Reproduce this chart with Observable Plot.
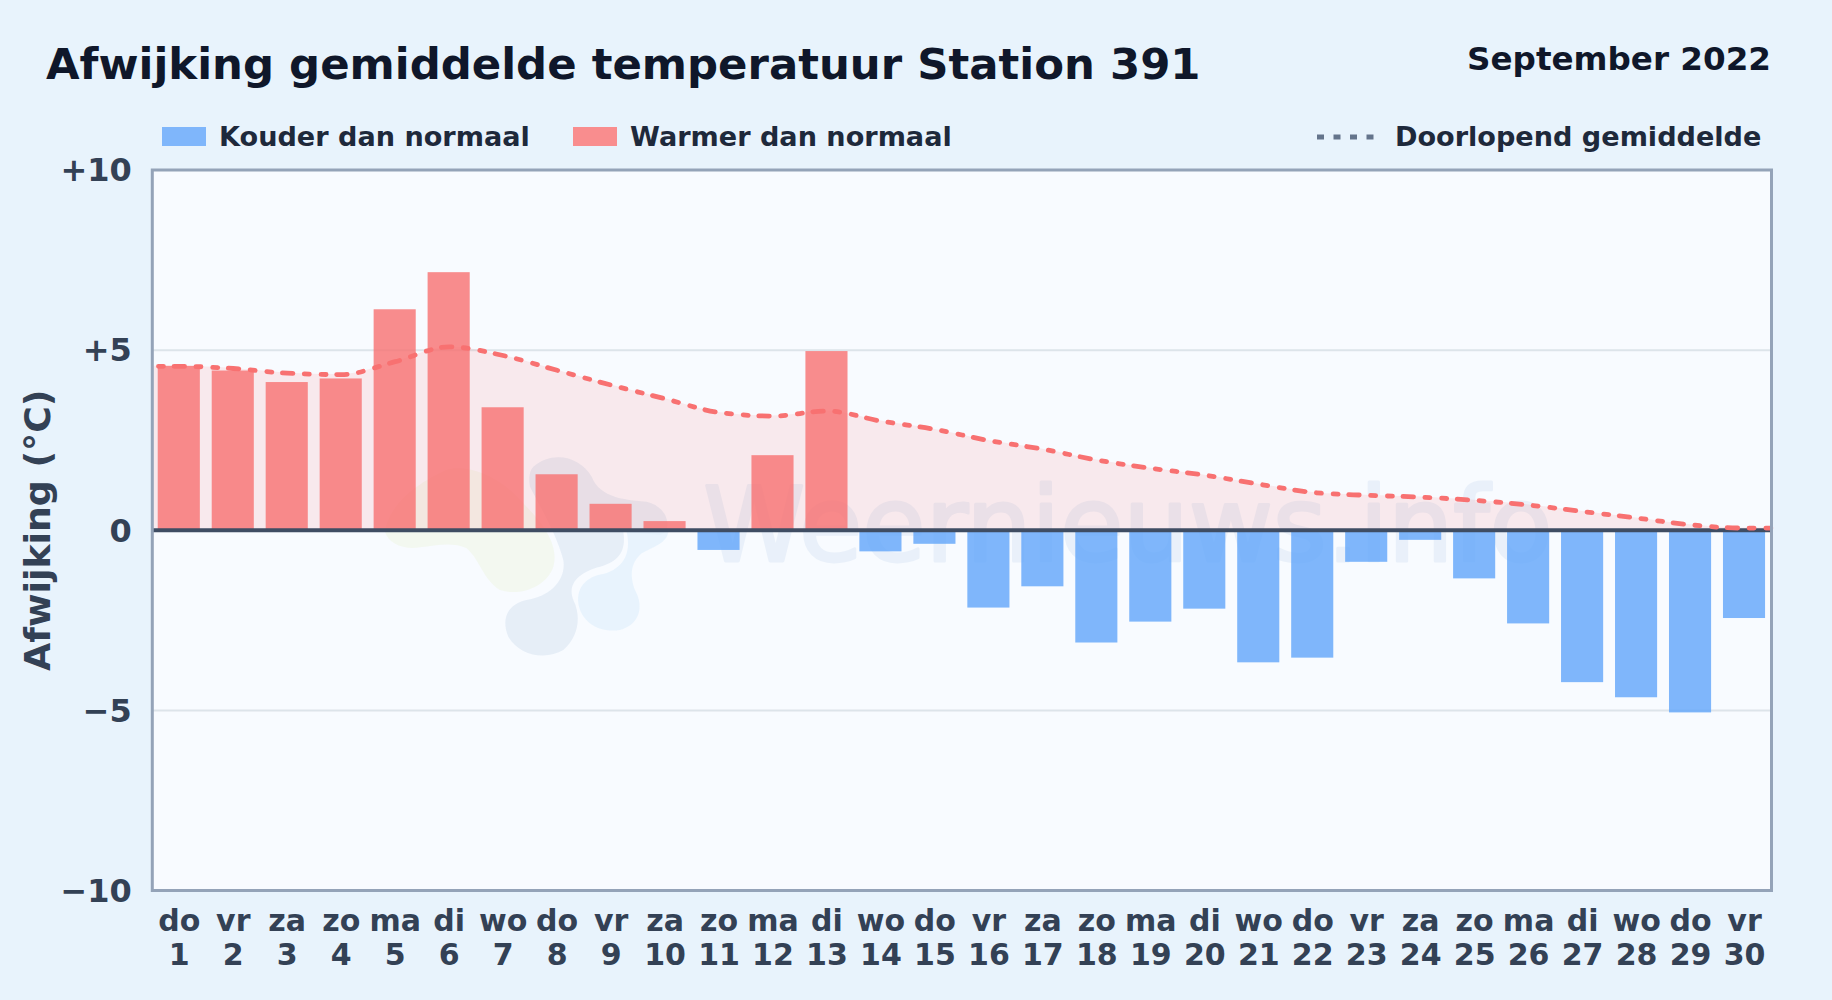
<!DOCTYPE html>
<html lang="nl">
<head>
<meta charset="utf-8">
<script src="https://cdn.jsdelivr.net/npm/d3@7"></script>
<script src="https://cdn.jsdelivr.net/npm/@observablehq/plot@0.6"></script>
<style>
html,body{margin:0;padding:0;background:#e8f3fc;}
body{width:1832px;height:1000px;overflow:hidden;position:relative;font-family:"DejaVu Sans",sans-serif;font-weight:bold;}
#header{position:relative;height:150px;}
#header span,#header div{position:absolute;white-space:nowrap;}
#title{left:46px;top:39px;font-size:43.4px;line-height:50px;color:#0f172a;}
#period{right:61px;top:40px;font-size:32.6px;line-height:38px;color:#0f172a;}
.leg{top:122px;font-size:27.1px;line-height:30px;color:#1e293b;}
.sw{top:127px;width:44px;height:19px;}
#dots{position:absolute;left:1317px;top:132px;}
#chart{position:absolute;left:0;top:150px;}
#chart svg{display:block;background:transparent;}
</style>
</head>
<body>
<div id="header">
  <span id="title">Afwijking gemiddelde temperatuur Station 391</span>
  <span id="period">September 2022</span>
  <div class="sw" style="left:162px;background:#7fb6fb"></div>
  <span class="leg" style="left:219px">Kouder dan normaal</span>
  <div class="sw" style="left:573px;background:#f98d8e"></div>
  <span class="leg" style="left:630px">Warmer dan normaal</span>
  <svg id="dots" width="60" height="10"><line x1="0" y1="5" x2="60" y2="5" stroke="#64748b" stroke-width="5" stroke-dasharray="7 9.5"/></svg>
  <span class="leg" style="left:1395px">Doorlopend gemiddelde</span>
</div>
<div id="chart"></div>
<script>
const days = d3.range(1, 31);
const weekdays = ["do","vr","za","zo","ma","di","wo","do","vr","za","zo","ma","di","wo","do","vr","za","zo","ma","di","wo","do","vr","za","zo","ma","di","wo","do","vr"];
const deviations = [4.55,4.42,4.10,4.20,6.12,7.15,3.40,1.54,0.72,0.24,-0.56,2.07,4.96,-0.60,-0.39,-2.16,-1.57,-3.13,-2.55,-2.19,-3.68,-3.55,-0.89,-0.28,-1.35,-2.60,-4.23,-4.65,-5.07,-2.45];
const runningMean = [4.55,4.49,4.36,4.32,4.68,5.09,4.85,4.44,4.03,3.65,3.27,3.17,3.31,3.03,2.80,2.49,2.25,1.95,1.72,1.53,1.28,1.05,0.97,0.92,0.83,0.70,0.52,0.34,0.15,0.06];
const yTicks = [-10,-5,0,5,10];
const yTickLabels = ["−10","−5","0","+5","+10"];
const gridValues = [-5,5];
const colours = {cold:"#60a5fa", warm:"#f87171"};

const bars = days.map((d,i)=>({day:d, value:deviations[i]}));
const avg = days.map((d,i)=>({day:d, value:runningMean[i]}));
const avgLine = [{day:0.5,value:runningMean[0]}, ...avg, {day:30.5,value:runningMean[29]}];
const tickColour = "#334155";

// faint logo behind the data (decoration only)
function logo(){
  const g = d3.create("svg:g").attr("transform","translate(360,270) scale(0.3333)");
  const blobs = [
    ["#e6f2c8",0.28,"M75,335 C90,250 170,190 260,150 C320,130 420,170 480,240 C540,300 600,370 580,440 C560,500 480,530 420,510 C370,480 360,420 320,385 C280,365 230,375 180,382 C130,390 85,370 75,335 Z"],
    ["#dbe6f3",0.65,"M520,140 C580,90 660,110 695,170 C720,235 800,240 860,245 C925,260 940,330 900,345 L790,335 C800,400 770,425 720,440 C660,455 620,490 640,540 C665,590 655,650 610,690 C560,720 480,710 445,650 C420,590 450,550 500,540 C570,530 620,480 610,420 C590,340 530,240 510,200 C505,170 510,150 520,140 Z"],
    ["#e3f1fd",0.8,"M800,335 L925,335 C920,370 880,380 845,400 C810,430 810,470 825,510 C855,565 835,615 780,630 C720,640 665,610 655,550 C650,500 680,470 730,462 C790,445 815,400 800,335 Z"]
  ];
  for (const [fill,op,d] of blobs) g.append("path").attr("d",d).attr("fill",fill).attr("fill-opacity",op);
  return g.node();
}

const plot = Plot.plot({
  width:1832, height:850,
  marginLeft:151.8, marginRight:61, marginTop:19.5, marginBottom:110,
  style:{background:"transparent",fontFamily:"DejaVu Sans, sans-serif",overflow:"visible"},
  x:{type:"linear",domain:[0.5,30.5],axis:null},
  y:{domain:[-10,10],axis:null},
  marks:[
    Plot.frame({fill:"#f8fbff",stroke:null}),
    logo,
    Plot.text(["Weernieuws.info"],{frameAnchor:"middle",dx:166,dy:-2,fontSize:103,fontWeight:"normal",fill:"#2f6fc0",stroke:"#2f6fc0",strokeWidth:3,opacity:0.07}),
    Plot.ruleY(gridValues,{stroke:"#dde4ea",strokeWidth:2}),
    Plot.areaY(avgLine,{x:"day",y1:0,y2:"value",curve:"monotone-x",fill:"#f87171",fillOpacity:0.13}),
    Plot.rectY(bars,{x1:d=>d.day-0.39,x2:d=>d.day+0.39,y:"value",fill:d=>d.value<0?colours.cold:colours.warm,fillOpacity:0.8,inset:0}),
    Plot.ruleY([0],{stroke:"#3f4d63",strokeWidth:4}),
    Plot.line(avgLine,{x:"day",y:"value",curve:"monotone-x",stroke:"#f87171",strokeWidth:4.8,strokeLinecap:"round",strokeDasharray:"5 11.8 5 10.6 10.5 11.4",strokeDashoffset:10.65}),
    Plot.frame({stroke:"#94a3b8",strokeWidth:3}),
    Plot.axisY({ticks:yTicks,tickFormat:d=>yTickLabels[yTicks.indexOf(d)],tickSize:0,tickPadding:20.5,dy:1,fontSize:32,fontWeight:"bold",fill:tickColour,label:null}),
    Plot.axisX({ticks:days,tickFormat:d=>weekdays[d-1]+"\n"+d,tickSize:0,tickPadding:17,fontSize:30,fontWeight:"bold",fill:tickColour,lineHeight:1.12,label:null}),
    Plot.text(["Afwijking (°C)"],{frameAnchor:"left",textAnchor:"middle",dx:-113.5,rotate:-90,fontSize:36.3,fontWeight:"bold",fill:tickColour})
  ]
});
document.getElementById("chart").append(plot);
</script>
</body>
</html>
